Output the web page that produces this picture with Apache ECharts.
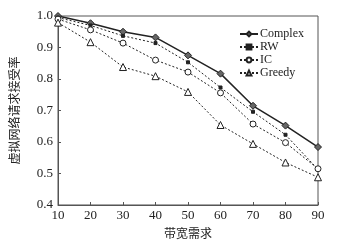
<!DOCTYPE html>
<html>
<head>
<meta charset="utf-8">
<script src="https://cdn.jsdelivr.net/npm/echarts@6/dist/echarts.min.js"></script>
<style>
  html, body { margin: 0; padding: 0; background: #fff; }
  #chart { width: 349px; height: 244px; }
</style>
</head>
<body>
<div id="chart"></div>
<script>
const bandwidth = [10, 20, 30, 40, 50, 60, 70, 80, 90]
const complexRate = [1.0, 0.977, 0.95, 0.932, 0.875, 0.817, 0.715, 0.652, 0.584]
const rwRate = [0.995, 0.97, 0.937, 0.914, 0.853, 0.773, 0.696, 0.623, 0.513]
const icRate = [0.99, 0.956, 0.914, 0.86, 0.822, 0.756, 0.657, 0.598, 0.515]
const greedyRate = [0.979, 0.917, 0.838, 0.809, 0.759, 0.654, 0.594, 0.535, 0.488]

const serif = '"Liberation Serif", "DejaVu Serif", serif'
const cjk = '"Noto Sans CJK SC", sans-serif'
const ink = '#222'

const pairs = arr => bandwidth.map((x, i) => [x, arr[i]])

function dotted(name, data, symbol, size, fill) {
  return {
    name,
    type: 'line',
    data: pairs(data),
    symbol,
    symbolSize: size,
    lineStyle: { color: ink, width: 1, type: [2, 2] },
    itemStyle: { color: fill, borderColor: ink, borderWidth: 1 },
  }
}

const chart = echarts.init(document.getElementById('chart'))
chart.setOption({
  animation: false,
  grid: { left: 57, right: 31, top: 16, bottom: 37, show: true, borderColor: '#555', borderWidth: 1 },
  legend: {
    orient: 'vertical',
    right: 40,
    top: 23,
    itemGap: 1,
    itemWidth: 18,
    itemHeight: 6,
    textStyle: { fontFamily: serif, fontSize: 12, color: ink, padding: [0, 0, 0, -3] },
    data: ['Complex', 'RW', 'IC', 'Greedy'],
  },
  xAxis: {
    type: 'value',
    min: 10,
    max: 90,
    interval: 10,
    name: '带宽需求',
    nameLocation: 'middle',
    nameGap: 22,
    nameTextStyle: { fontFamily: cjk, fontSize: 12, color: ink },
    axisLine: { lineStyle: { color: '#555' } },
    axisTick: { inside: true, length: 3, lineStyle: { color: '#555' } },
    axisLabel: { fontFamily: serif, fontSize: 13, color: ink, margin: 4 },
    splitLine: { show: false },
  },
  yAxis: {
    type: 'value',
    min: 0.4,
    max: 1.0,
    interval: 0.1,
    name: '虚拟网络请求接受率',
    nameLocation: 'middle',
    nameGap: 38,
    nameTextStyle: { fontFamily: cjk, fontSize: 12, color: ink },
    axisLine: { show: true, lineStyle: { color: '#555' } },
    axisTick: { show: true, inside: true, length: 3, lineStyle: { color: '#555' } },
    axisLabel: { fontFamily: serif, fontSize: 13, color: ink, margin: 5, formatter: v => v.toFixed(1) },
    splitLine: { show: false },
  },
  series: [
    {
      name: 'Complex',
      type: 'line',
      data: pairs(complexRate),
      symbol: 'diamond',
      symbolSize: 7,
      lineStyle: { color: ink, width: 1.5 },
      itemStyle: { color: '#666', borderColor: ink, borderWidth: 1 },
    },
    dotted('RW', rwRate, 'rect', 3, ink),
    dotted('IC', icRate, 'circle', 6, '#fff'),
    dotted('Greedy', greedyRate, 'triangle', 7, '#fff'),
  ],
})
</script>
</body>
</html>
